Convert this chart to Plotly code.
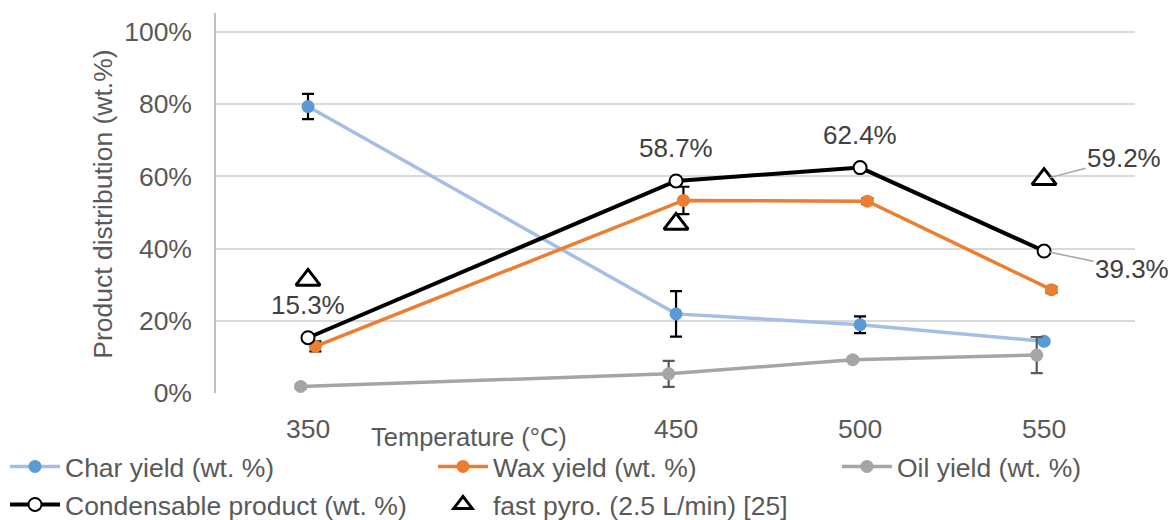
import plotly.graph_objects as go

# ---- data ----
temps = [350, 450, 500, 550]
wax_x = [352, 452, 502, 552]
oil_x = [348, 448, 498, 548]
char_yield = [79.3, 21.9, 18.9, 14.3]
char_err = [3.5, 6.3, 2.3, 0.5]
wax_yield = [12.9, 53.3, 53.1, 28.6]
wax_err = [1.4, 3.8, 0.8, 0.8]
oil_yield = [1.8, 5.3, 9.2, 10.5]
oil_err = [0.5, 3.6, 0.5, 5.0]
cond_yield = [15.3, 58.7, 62.4, 39.3]
fast_x = [350, 450, 550]
fast_y = [31.3, 46.8, 59.2]
tick_vals = [350, 450, 500, 550]
tick_text = ["350", "450", "500", "550"]
y_ticks = [0, 20, 40, 60, 80, 100]
y_tick_text = ["0%", "20%", "40%", "60%", "80%", "100%"]

FONT = "Liberation Sans, Arial, sans-serif"
TXT = "#595959"
LBL = "#404040"

fig = go.Figure()

fig.add_trace(go.Scatter(
    x=temps, y=char_yield, mode="lines+markers", name="Char yield (wt. %)",
    line=dict(color="#A4BEE6", width=3.5),
    marker=dict(color="#5B9BD5", size=13),
    error_y=dict(type="data", array=char_err, color="black", thickness=2.2, width=6),
    legend="legend"))
fig.add_trace(go.Scatter(
    x=wax_x, y=wax_yield, mode="lines+markers", name="Wax yield (wt. %)",
    line=dict(color="#ED7D31", width=3.5),
    marker=dict(color="#ED7D31", size=13),
    error_y=dict(type="data", array=wax_err, color="black", thickness=2.2, width=6),
    legend="legend2"))
fig.add_trace(go.Scatter(
    x=oil_x, y=oil_yield, mode="lines+markers", name="Oil yield (wt. %)",
    line=dict(color="#A5A5A5", width=3.5),
    marker=dict(color="#A5A5A5", size=13),
    error_y=dict(type="data", array=oil_err, color="#595959", thickness=2.2, width=6),
    legend="legend3"))
fig.add_trace(go.Scatter(
    x=temps, y=cond_yield, mode="lines+markers", name="Condensable product (wt. %)",
    line=dict(color="black", width=4),
    marker=dict(color="white", size=13, line=dict(color="black", width=2)),
    legend="legend4"))
fig.add_trace(go.Scatter(
    x=fast_x, y=fast_y, mode="markers", name="fast pyro. (2.5 L/min) [25]",
    marker=dict(symbol="triangle-up", color="white", size=21,
                line=dict(color="black", width=3)),
    legend="legend5"))

annotations = []
for xv, yv in zip(temps[:3], cond_yield[:3]):
    annotations.append(dict(x=xv, y=yv, xref="x", yref="y", text=f"{yv}%",
                            showarrow=False, yshift=33,
                            font=dict(family=FONT, size=26, color=LBL)))
annotations.append(dict(x=temps[3], y=cond_yield[3], xref="x", yref="y",
                        text=f"{cond_yield[3]}%", showarrow=True, arrowhead=0,
                        arrowwidth=1.5, arrowcolor="#A5A5A5", ax=88, ay=18,
                        standoff=6, font=dict(family=FONT, size=26, color=LBL)))
annotations.append(dict(x=fast_x[2], y=fast_y[2], xref="x", yref="y",
                        text=f"{fast_y[2]}%", showarrow=True, arrowhead=0,
                        arrowwidth=1.5, arrowcolor="#A5A5A5", ax=80, ay=-21,
                        standoff=6, font=dict(family=FONT, size=26, color=LBL)))
annotations.append(dict(x=0.275, y=-0.115, xref="paper", yref="paper",
                        text="Temperature (°C)", showarrow=False,
                        xanchor="center", yanchor="middle",
                        font=dict(family=FONT, size=25.5, color=TXT)))
annotations.append(dict(x=-0.123, y=0.498, xref="paper", yref="paper",
                        text="Product distribution (wt.%)", showarrow=False,
                        textangle=-90, xanchor="center", yanchor="middle",
                        font=dict(family=FONT, size=26.5, color=TXT)))

leg_common = dict(orientation="v", yanchor="middle", xanchor="left",
                  bgcolor="rgba(0,0,0,0)", itemwidth=50,
                  font=dict(family=FONT, size=26.5, color=TXT))

row1 = -0.194
row2 = -0.294
fig.update_layout(
    width=1173, height=520,
    margin=dict(l=216, r=38, t=13, b=127, autoexpand=False),
    paper_bgcolor="white", plot_bgcolor="white",
    font=dict(family=FONT, size=25, color=TXT),
    showlegend=True,
    legend=dict(x=-0.2296, y=row1, **leg_common),
    legend2=dict(x=0.2361, y=row1, **leg_common),
    legend3=dict(x=0.6757, y=row1, **leg_common),
    legend4=dict(x=-0.2296, y=row2, **leg_common),
    legend5=dict(x=0.2361, y=row2, **leg_common),
    annotations=annotations,
    xaxis=dict(range=[325, 574.7], tickvals=tick_vals, ticktext=tick_text,
               showgrid=False, zeroline=False, showline=False, ticks="",
               ticklabelstandoff=17,
               tickfont=dict(family=FONT, size=26.5, color=TXT)),
    yaxis=dict(range=[0, 105.2], tickvals=y_ticks, ticktext=y_tick_text,
               showgrid=True, gridcolor="#D9D9D9", gridwidth=1.5,
               zeroline=False, showline=True, linecolor="#BFBFBF", linewidth=1.5,
               ticks="", ticklabelstandoff=17,
               tickfont=dict(family=FONT, size=26.5, color=TXT)),
)

fig.write_html("out.html")
